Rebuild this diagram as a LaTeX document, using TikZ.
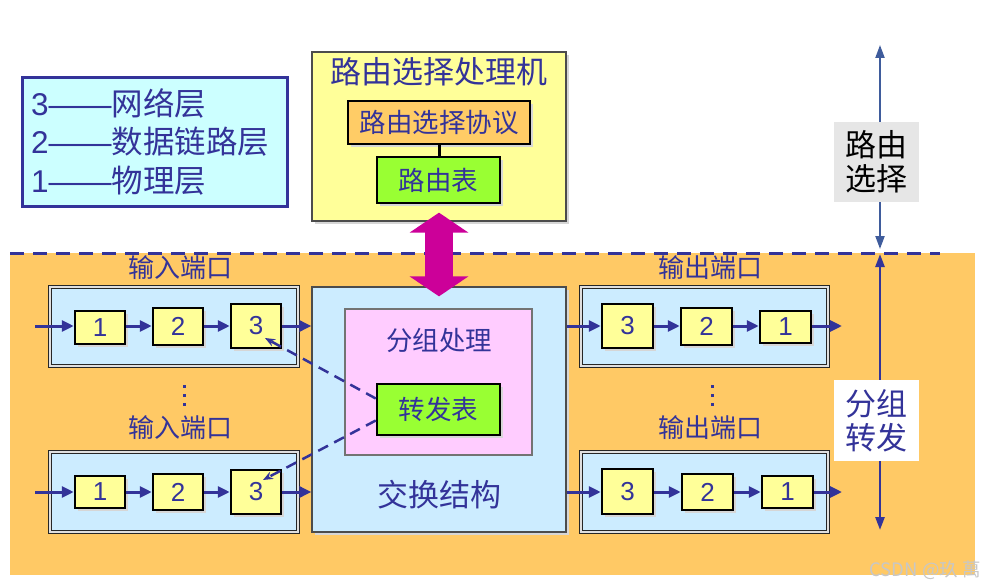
\documentclass[tikz,border=0pt]{standalone}
\usepackage{fontspec}
\setmainfont{Noto Sans CJK SC}
\newfontfamily\latin{Liberation Sans}
\usetikzlibrary{arrows.meta,shadows,calc}
\definecolor{navy}{HTML}{333399}
\definecolor{steel}{HTML}{3F5C9C}
\definecolor{bandorange}{HTML}{FFC965}
\definecolor{lblue}{HTML}{CCECFF}
\definecolor{lcyan}{HTML}{CCFFFF}
\definecolor{pyellow}{HTML}{FFFF99}
\definecolor{porange}{HTML}{FFCC66}
\definecolor{pgreen}{HTML}{99FF33}
\definecolor{ppink}{HTML}{FFCCFF}
\definecolor{pmagenta}{HTML}{CC0099}
\definecolor{lgray}{HTML}{E6E6E6}
\newcommand{\fs}[1]{\fontsize{#1}{#1}\selectfont}
\newcommand{\fsl}[2]{\fontsize{#1}{#2}\selectfont}
\tikzset{
  shade3/.style={drop shadow={shadow xshift=3pt,shadow yshift=-3pt,fill=black!16,opacity=1}},
  cell/.style={draw=black, line width=2.5pt, fill=pyellow, inner sep=0pt, shade3,
    text=navy, font=\latin\fs{26}},
  port/.style={draw=black!85, double=gray!25, double distance=2pt, line width=0.9pt,
    fill=lblue, inner sep=0pt},
  panel/.style={draw=black!70, line width=1.3pt, inner sep=0pt},
  tablebox/.style={draw=black, line width=2.5pt, fill=pgreen, inner sep=0pt, shade3,
    text=navy, font=\fs{26.5}},
  lbl/.style={text=navy, inner sep=0pt},
  legendline/.style={lbl, anchor=west, font=\fs{31.5}},
  flow/.style={navy, line width=3pt, -{Triangle[length=12pt,width=11pt]}},
  lookup/.style={navy, line width=2.5pt, dash pattern=on 11pt off 7pt,
    -{Stealth[length=10pt,width=8pt]}},
  layerarrow/.style={line width=2pt, {Triangle[length=13pt,width=9pt]}-},
}
\begin{document}
\begin{tikzpicture}[x=1pt,y=-1pt]
\useasboundingbox (0,0) rectangle (984,588);

% forwarding band
\fill[bandorange] (10,253) rectangle (975,575);
\draw[navy, line width=3pt, dash pattern=on 14pt off 9pt] (10,253) -- (940,253);

% legend of layers
\node[draw=navy, line width=3pt, fill=lcyan, minimum width=265pt, minimum height=128pt,
  inner sep=0pt] (legend) at (154.5,142) {};
\node[legendline] (l3) at (31,103) {{\latin 3——}网络层};
\node[legendline] (l2) at (31,142) {{\latin 2——}数据链路层};
\node[legendline] (l1) at (31,181) {{\latin 1——}物理层};

% routing processor
\node[panel, fill=pyellow, shade3, minimum width=254pt, minimum height=169pt] (rp) at (439,136.5) {};
\node[lbl, font=\fs{31}] (rptitle) at (439,72) {路由选择处理机};
\node[draw=black, line width=2.5pt, fill=porange, inner sep=0pt, shade3, text=navy,
  font=\fs{26.5}, minimum width=182pt, minimum height=43pt] (proto) at (439,122.5) {路由选择协议};
\node[tablebox, minimum width=123pt, minimum height=46pt] (rtab) at (438.5,180) {路由表};
\draw[black, line width=3pt] (proto.south) -- (proto.south |- rtab.north);

% switching fabric
\node[panel, fill=lblue, shade3, minimum width=254pt, minimum height=245pt] (sw) at (439,409.5) {};
\node[panel, draw=black!55, fill=ppink, minimum width=187pt, minimum height=146pt] (pkt) at (438.5,382) {};
\node[lbl, font=\fs{26.5}] (pkttitle) at (439,340) {分组处理};
\node[tablebox, minimum width=123pt, minimum height=51pt] (ftab) at (438.5,409.5) {转发表};
\node[lbl, font=\fs{31}] (swtitle) at (439,495) {交换结构};

% route table <-> switching fabric
\draw[pmagenta, line width=28pt,
  {Triangle[length=20pt,width=58pt]}-{Triangle[length=20pt,width=58pt]}]
  ($(rp.south)+(0,-9)$) -- ($(sw.north)+(0,10)$);

% input ports
\node[lbl, font=\fs{26}] (inAlbl) at (180,268) {输入端口};
\node[port, minimum width=248pt, minimum height=79pt] (inA) at (174,326.5) {};
\node[cell, minimum width=50pt, minimum height=33pt] (inA1) at (100,327.5) {1};
\node[cell, minimum width=50pt, minimum height=37pt] (inA2) at (178,326.5) {2};
\node[cell, minimum width=50pt, minimum height=44pt] (inA3) at (256,326) {3};

\node[lbl, font=\fs{26}] (inBlbl) at (180,428) {输入端口};
\node[port, minimum width=248pt, minimum height=80pt] (inB) at (174,492) {};
\node[cell, minimum width=50pt, minimum height=32pt] (inB1) at (100,492) {1};
\node[cell, minimum width=50pt, minimum height=36pt] (inB2) at (178,492) {2};
\node[cell, minimum width=50pt, minimum height=44pt] (inB3) at (256,492) {3};

% output ports
\node[lbl, font=\fs{26}] (outAlbl) at (710,268) {输出端口};
\node[port, minimum width=247pt, minimum height=79pt] (outA) at (704.5,326.5) {};
\node[cell, minimum width=51pt, minimum height=44pt] (outA3) at (627.5,326) {3};
\node[cell, minimum width=51pt, minimum height=37pt] (outA2) at (706.5,326.5) {2};
\node[cell, minimum width=51pt, minimum height=32pt] (outA1) at (785.5,327) {1};

\node[lbl, font=\fs{26}] (outBlbl) at (710,428) {输出端口};
\node[port, minimum width=247pt, minimum height=80pt] (outB) at (704.5,492) {};
\node[cell, minimum width=51pt, minimum height=45pt] (outB3) at (627.5,491.5) {3};
\node[cell, minimum width=51pt, minimum height=36pt] (outB2) at (707.5,492) {2};
\node[cell, minimum width=51pt, minimum height=32pt] (outB1) at (787.5,492) {1};

% vertical ellipses between the ports
\foreach \yy in {386,395,404} {
  \fill[navy] (182.5,\yy-1.5) rectangle (185.5,\yy+1.5);
  \fill[navy] (710.5,\yy-1.5) rectangle (713.5,\yy+1.5);
}

% packet flow through the ports
\coordinate (inAsrc) at (35,326);
\coordinate (inBsrc) at (35,492);
\coordinate (outAdst) at (842,326);
\coordinate (outBdst) at (842,492);
\draw[flow] (inAsrc) -- (inAsrc -| inA1.west);
\draw[flow] (inA1.east |- inAsrc) -- (inAsrc -| inA2.west);
\draw[flow] (inA2.east |- inAsrc) -- (inAsrc -| inA3.west);
\draw[flow] (inA3.east |- inAsrc) -- (inAsrc -| sw.west);
\draw[flow] (inBsrc) -- (inBsrc -| inB1.west);
\draw[flow] (inB1.east |- inBsrc) -- (inBsrc -| inB2.west);
\draw[flow] (inB2.east |- inBsrc) -- (inBsrc -| inB3.west);
\draw[flow] (inB3.east |- inBsrc) -- (inBsrc -| sw.west);
\draw[flow] (sw.east |- outAdst) -- (outAdst -| outA3.west);
\draw[flow] (outA3.east |- outAdst) -- (outAdst -| outA2.west);
\draw[flow] (outA2.east |- outAdst) -- (outAdst -| outA1.west);
\draw[flow] (outA1.east |- outAdst) -- (outAdst);
\draw[flow] (sw.east |- outBdst) -- (outBdst -| outB3.west);
\draw[flow] (outB3.east |- outBdst) -- (outBdst -| outB2.west);
\draw[flow] (outB2.east |- outBdst) -- (outBdst -| outB1.west);
\draw[flow] (outB1.east |- outBdst) -- (outBdst);

% forwarding table lookups
\draw[lookup] ($(ftab.west)+(0,-11)$) -- ($(inA3.center)+(9,12)$);
\draw[lookup] ($(ftab.west)+(0,11)$) -- ($(inB3.center)+(7,-12)$);

% layer annotations on the right
\coordinate (rtTop) at (880,45);
\coordinate (rtBot) at (880,249);
\coordinate (fwTop) at (880,254);
\coordinate (fwBot) at (880,530);
\node[fill=lgray, inner sep=0pt, minimum width=85pt, minimum height=80pt, align=center,
  font=\fsl{31}{34}, text=black] (rtlbl) at (876.5,162) {路由\\选择};
\node[fill=white, inner sep=0pt, minimum width=85pt, minimum height=81pt, align=center,
  font=\fsl{31}{34}, text=navy] (fwlbl) at (876.5,420.5) {分组\\转发};
\draw[layerarrow, steel] (rtTop) -- (rtlbl.north -| rtTop);
\draw[layerarrow, steel] (rtBot) -- (rtlbl.south -| rtBot);
\draw[layerarrow, navy, line width=2.5pt] (fwTop) -- (fwlbl.north -| fwTop);
\draw[layerarrow, navy, line width=2.5pt] (fwBot) -- (fwlbl.south -| fwBot);

% credit line
\node[text=black!22, font=\fs{18.5}, anchor=east, inner sep=0pt] (credit) at (981,570) {CSDN @玖 萬};
\end{tikzpicture}
\end{document}
